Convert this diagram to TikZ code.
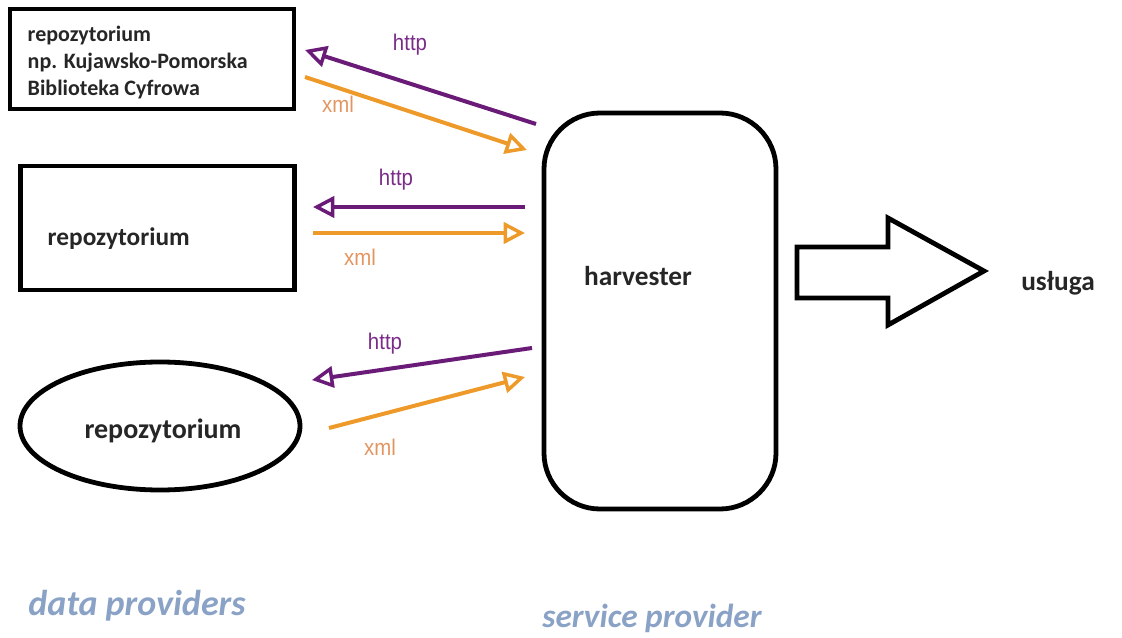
\documentclass[tikz,border=0pt]{standalone}
\usepackage{fontspec}
\setmainfont{Carlito}
\newfontfamily\arialf{Liberation Sans}
\usetikzlibrary{arrows.meta,shapes.geometric}
\definecolor{purp}{HTML}{6A1B78}
\definecolor{orng}{HTML}{EE9A2A}
\definecolor{purptxt}{HTML}{7A2C88}
\definecolor{orngtxt}{HTML}{E39560}
\definecolor{provblue}{HTML}{8AA2C6}
\tikzset{
  box/.style={draw=black, line width=3.6pt, fill=white, inner sep=0pt},
  conn/.style={line width=3pt, -{Triangle[open,length=16pt,width=16pt,line width=2.6pt]}},
  httpc/.style={conn, draw=purp},
  xmlc/.style={conn, draw=orng},
  httplbl/.style={font=\arialf\fontsize{17}{19}\selectfont, text=purptxt, xscale=0.9},
  xmllbl/.style={font=\arialf\fontsize{17}{19}\selectfont, text=orngtxt, xscale=0.9},
  bigtxt/.style={font=\bfseries\fontsize{19}{22}\selectfont, text=black!85},
  footer/.style={font=\bfseries\itshape\fontsize{27}{30}\selectfont, text=provblue, inner sep=0pt},
}
\begin{document}
\begin{tikzpicture}[x=0.75pt,y=-0.75pt]
\useasboundingbox (0,0) rectangle (1122,638);
% repositories
\node[box, rectangle, minimum width=213pt, minimum height=75pt] (r1) at (152,59) {};
\node[anchor=north west, align=left, font=\bfseries\fontsize{16.5}{20.5}\selectfont, text=black!85] (r1t) at (23,21) {repozytorium\\np. Kujawsko-Pomorska\\Biblioteka Cyfrowa};
\node[box, rectangle, minimum width=206pt, minimum height=93pt] (r2) at (157.5,228) {};
\node[bigtxt, anchor=west] (r2t) at (43,239) {repozytorium};
\node[box, ellipse, minimum width=210pt, minimum height=96pt] (r3) at (160,426) {};
\node[bigtxt, font=\bfseries\fontsize{21}{24}\selectfont] (r3t) at (163,431) {repozytorium};
% harvester
\node[box, rectangle, rounded corners=42pt, minimum width=174pt, minimum height=297pt] (h) at (660,311) {};
\node[bigtxt, font=\bfseries\fontsize{20.5}{24}\selectfont] (ht) at (638,276) {harvester};
% block arrow
\draw[line width=3.6pt, line join=miter] (797,247) -- (888,247) -- (888,218) -- (984,271) -- (888,325) -- (888,298) -- (797,298) -- cycle;
\node[bigtxt, font=\bfseries\fontsize{20.5}{24}\selectfont] (u) at (1058,283) {usługa};
% connectors
\coordinate (a1s) at (536,124); \coordinate (a1e) at (305,50);
\coordinate (b1s) at (305,77); \coordinate (b1e) at (527,150);
\coordinate (a2s) at (525,207); \coordinate (a2e) at (313,207);
\coordinate (b2s) at (313,233); \coordinate (b2e) at (525,233);
\coordinate (a3s) at (532,348); \coordinate (a3e) at (312,380);
\coordinate (b3s) at (329,428); \coordinate (b3e) at (525,377);
\draw[httpc] (a1s) -- (a1e);
\draw[xmlc] (b1s) -- (b1e);
\draw[httpc] (a2s) -- (a2e);
\draw[xmlc] (b2s) -- (b2e);
\draw[httpc] (a3s) -- (a3e);
\draw[xmlc] (b3s) -- (b3e);
\node[httplbl] (l1) at (410,45) {http};
\node[xmllbl] (x1) at (338,104) {xml};
\node[httplbl] (l2) at (396,180) {http};
\node[xmllbl] (x2) at (360,257) {xml};
\node[httplbl] (l3) at (385,344) {http};
\node[xmllbl] (x3) at (380,447) {xml};
% footer
\node[footer] (dp) at (137,606) {data providers};
\node[footer, font=\bfseries\itshape\fontsize{25}{28}\selectfont] (sp) at (652,618) {service provider};
\end{tikzpicture}
\end{document}
